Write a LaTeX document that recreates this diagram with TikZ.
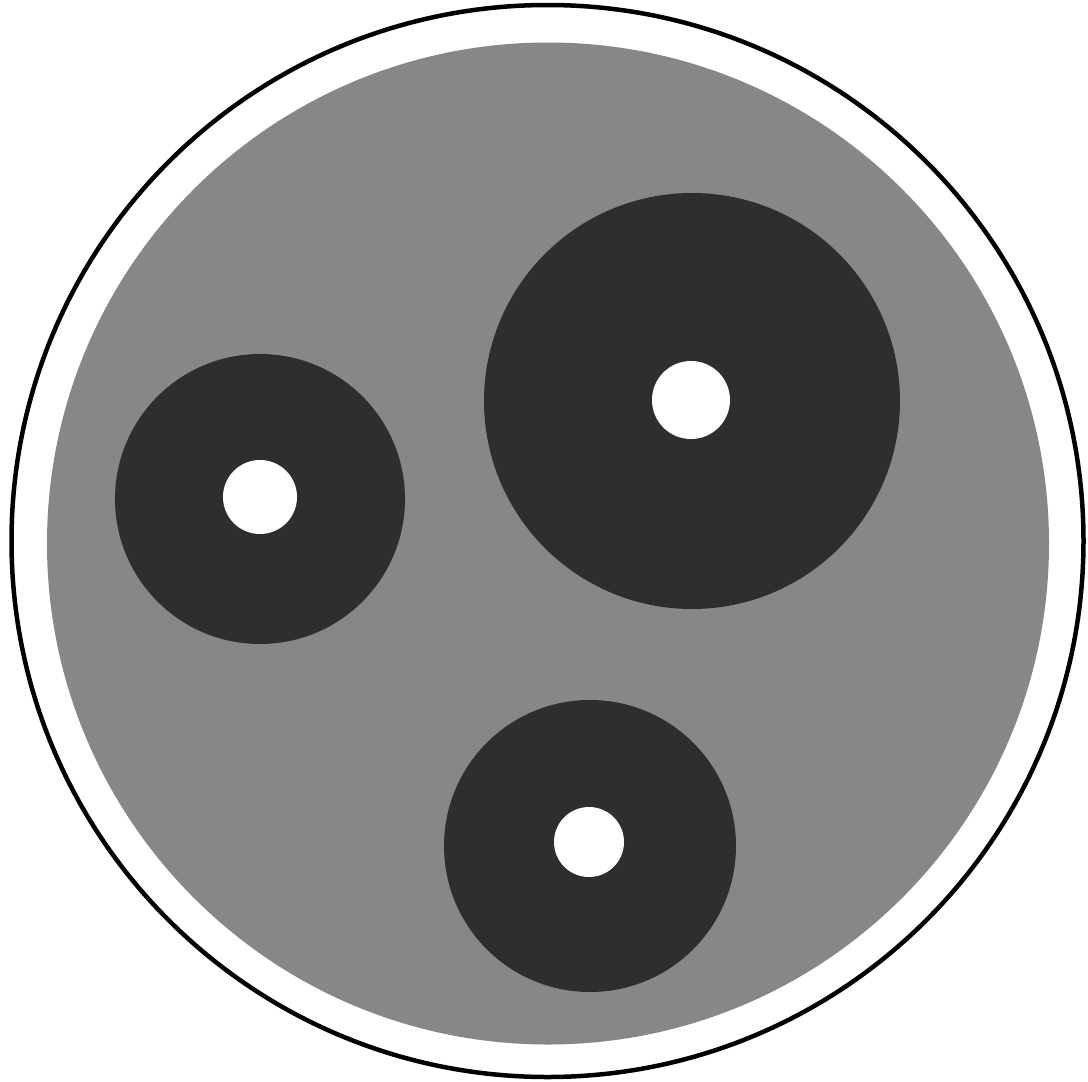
\documentclass[tikz,border=0pt]{standalone}
\begin{document}
\begin{tikzpicture}[x=1pt,y=-1pt,
  plate/.style={fill=black!47},
  ring/.style={fill=black!82},
  hole/.style={fill=white}]
\useasboundingbox (0,0) rectangle (1088,1082);
\fill[white] (0,0) rectangle (1088,1082);
\draw[line width=4.5pt] (547.5,541) circle[radius=536];
\fill[plate] (548,543.5) circle[radius=501];
% left disc
\fill[ring] (260,499) circle[radius=145];
\fill[hole] (260,497) circle[radius=37];
% top right disc
\fill[ring] (692,401) circle[radius=208];
\fill[hole] (691,400) circle[radius=39];
% bottom disc
\fill[ring] (590,846) circle[radius=146];
\fill[hole] (589,842) circle[radius=35];
\end{tikzpicture}
\end{document}
